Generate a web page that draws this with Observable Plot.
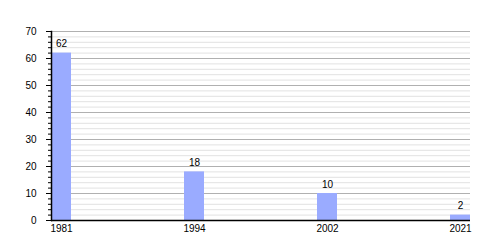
<!DOCTYPE html>
<html>
<head>
<meta charset="utf-8">
<script src="https://cdn.jsdelivr.net/npm/d3@7"></script>
<script src="https://cdn.jsdelivr.net/npm/@observablehq/plot@0.6"></script>
<style>
  body { margin: 0; background: #fff; }
  svg { font-family: "Liberation Sans", Arial, sans-serif; }
</style>
</head>
<body>
<div id="chart"></div>
<script>
const years = ["1981", "1994", "2002", "2021"];
const values = [62, 18, 10, 2];
const majorTicks = [0, 10, 20, 30, 40, 50, 60, 70];
const minorTicks = d3.range(0, 71, 2);

const data = years.map((y, i) => ({year: y, value: values[i]}));

const chart = Plot.plot({
  width: 500,
  height: 250,
  marginLeft: 51,
  marginRight: 30,
  marginTop: 31,
  marginBottom: 30,
  style: {fontFamily: "Liberation Sans, Arial, sans-serif", fontSize: "10px", color: "#000", background: "#fff"},
  x: {domain: years, paddingInner: 0.85, paddingOuter: 0, label: null},
  y: {domain: [0, 70], label: null},
  marks: [
    Plot.ruleY(minorTicks.filter(d => d % 10 !== 0), {stroke: "#e2e2e2", strokeWidth: 1}),
    Plot.ruleY(majorTicks.filter(d => d > 0), {stroke: "#b0b0b0", strokeWidth: 1}),
    Plot.barY(data, {x: "year", y: "value", fill: "#9aabff"}),
    Plot.text(data, {x: "year", y: "value", text: d => String(d.value), dy: -6, lineAnchor: "bottom", fill: "#000", fontSize: 10}),
    Plot.axisY({ticks: minorTicks, tickSize: 3, text: null, stroke: "#000"}),
    Plot.axisY({ticks: majorTicks, tickSize: 5, tickPadding: 10, fontSize: 10, stroke: "#000", fill: "#000"}),
    Plot.axisX({tickSize: 0, tickPadding: 4, fontSize: 10, fill: "#000"}),
    Plot.ruleY([0], {stroke: "#000", strokeWidth: 1.5}),
    Plot.frame({anchor: "left", stroke: "#000", strokeWidth: 1.5})
  ]
});
document.getElementById("chart").appendChild(chart);
</script>
</body>
</html>
